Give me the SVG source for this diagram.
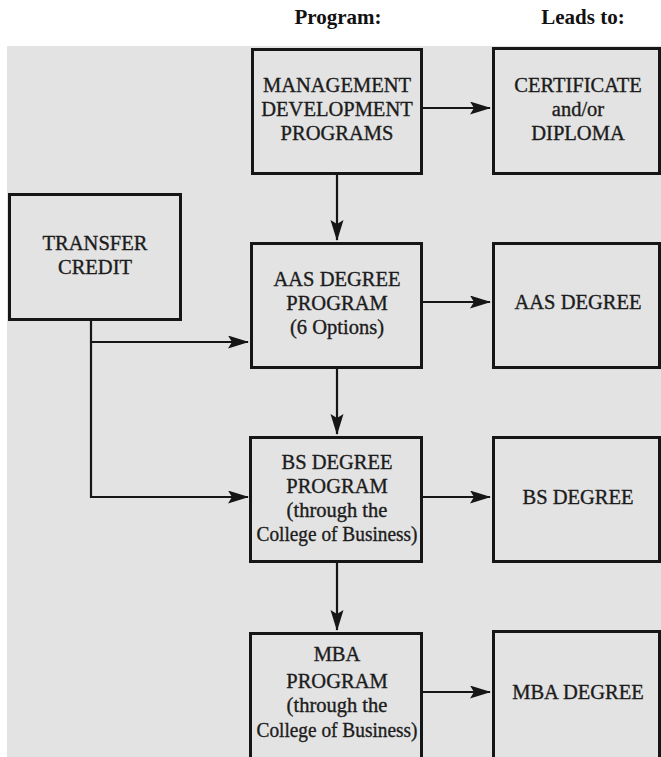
<svg xmlns="http://www.w3.org/2000/svg" width="661" height="757" viewBox="0 0 661 757">
<style>
.bx{fill:none;stroke:#161616;stroke-width:3}
.t{font-family:"Liberation Serif","DejaVu Serif",serif;font-size:20.5px;fill:#1c1c1c;stroke:#1c1c1c;stroke-width:0.35;text-anchor:middle}
.h{font-family:"Liberation Serif","DejaVu Serif",serif;font-size:21px;font-weight:bold;fill:#111;text-anchor:middle}
.c{fill:none;stroke:#161616;stroke-width:2.2}
</style>
<defs>
<marker id="ah" markerUnits="userSpaceOnUse" markerWidth="22" markerHeight="14" refX="20" refY="6.5" orient="auto">
<path d="M0,0 L21,6.5 L0,13 L4,6.5 Z" fill="#161616"/>
</marker>
</defs>
<rect x="0" y="0" width="661" height="757" fill="#ffffff"/>
<rect x="7" y="46" width="654" height="711" fill="#e3e3e3"/>
<text class="h" x="338" y="24">Program:</text>
<text class="h" x="583" y="24">Leads to:</text>
<g id="connectors">
<path class="c" d="M423,108 H490" marker-end="url(#ah)"/>
<path class="c" d="M337,175 V240" marker-end="url(#ah)"/>
<path class="c" d="M423,302 H490" marker-end="url(#ah)"/>
<path class="c" d="M337,369 V434" marker-end="url(#ah)"/>
<path class="c" d="M423,497 H490" marker-end="url(#ah)"/>
<path class="c" d="M337,563 V630" marker-end="url(#ah)"/>
<path class="c" d="M423,692 H490" marker-end="url(#ah)"/>
<path class="c" d="M91,321 V497 H248" marker-end="url(#ah)"/>
<path class="c" d="M91,342 H248" marker-end="url(#ah)"/>
</g>
<g id="mgmt">
<rect class="bx" x="252.5" y="49.5" width="169" height="124"/>
<text class="t" x="337" y="92">MANAGEMENT</text>
<text class="t" x="337" y="115.5">DEVELOPMENT</text>
<text class="t" x="337" y="139.5">PROGRAMS</text>
</g>
<g id="cert">
<rect class="bx" x="493.5" y="48.5" width="166" height="125"/>
<text class="t" x="578" y="92">CERTIFICATE</text>
<text class="t" x="578" y="116">and/or</text>
<text class="t" x="578" y="140">DIPLOMA</text>
</g>
<g id="transfer">
<rect class="bx" x="9.5" y="194.5" width="171" height="125"/>
<text class="t" x="95" y="250">TRANSFER</text>
<text class="t" x="95" y="274">CREDIT</text>
</g>
<g id="aas">
<rect class="bx" x="251.5" y="243.5" width="170" height="124"/>
<text class="t" x="337" y="286">AAS DEGREE</text>
<text class="t" x="337" y="310">PROGRAM</text>
<text class="t" x="337" y="334">(6 Options)</text>
</g>
<g id="aasdeg">
<rect class="bx" x="493.5" y="243.5" width="166" height="124"/>
<text class="t" x="578" y="309">AAS DEGREE</text>
</g>
<g id="bs">
<rect class="bx" x="250.5" y="437.5" width="171" height="124"/>
<text class="t" x="337" y="469">BS DEGREE</text>
<text class="t" x="337" y="493">PROGRAM</text>
<text class="t" x="337" y="517">(through the</text>
<text class="t" x="337" y="541" textLength="161" lengthAdjust="spacingAndGlyphs">College of Business)</text>
</g>
<g id="bsdeg">
<rect class="bx" x="493.5" y="437.5" width="166" height="124"/>
<text class="t" x="578" y="504">BS DEGREE</text>
</g>
<g id="mba">
<rect class="bx" x="250.5" y="633.5" width="171" height="126"/>
<text class="t" x="337" y="661">MBA</text>
<text class="t" x="337" y="688">PROGRAM</text>
<text class="t" x="337" y="712">(through the</text>
<text class="t" x="337" y="737" textLength="161" lengthAdjust="spacingAndGlyphs">College of Business)</text>
</g>
<g id="mbadeg">
<rect class="bx" x="493.5" y="631.5" width="166" height="128"/>
<text class="t" x="578" y="699">MBA DEGREE</text>
</g>
</svg>
